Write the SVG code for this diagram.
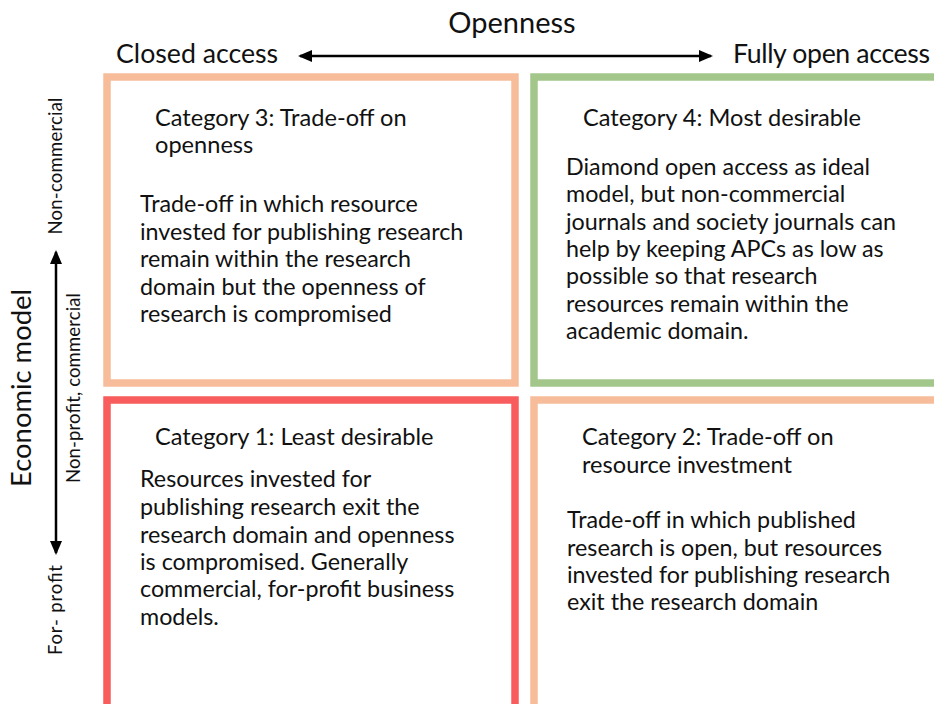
<svg xmlns="http://www.w3.org/2000/svg" width="934" height="704" viewBox="0 0 934 704">
<style>
  .t { font-family: Lato, "Open Sans", "Liberation Sans", sans-serif; fill: #111; }
  .ti { font-size: 29px; }
  .ax { font-size: 26.7px; }
  .em { font-size: 27.4px; }
  .lab { font-size: 18.5px; }
  .h { font-size: 23.6px; }
  .b { font-size: 23.3px; }
  .box { fill: #fff; stroke-width: 7.5; }
  .peach { stroke: #F7BD9B; }
  .green { stroke: #A3C78A; }
  .red { stroke: #F85C5C; }
  .arr { stroke: #000; stroke-width: 2.5; fill: none; }
</style>
<defs>
  <marker id="ah" viewBox="0 0 14 12" refX="12" refY="6" markerWidth="14" markerHeight="12" markerUnits="userSpaceOnUse" orient="auto-start-reverse">
    <path d="M0,0 L14,6 L0,12 Z" fill="#000"/>
  </marker>
</defs>
<rect width="934" height="704" fill="#fff"/>

<g id="axis-openness">
  <text class="t ti" x="512" y="33" text-anchor="middle">Openness</text>
  <text class="t ax" x="116" y="63">Closed access</text>
  <text class="t ax" x="733" y="63" textLength="197">Fully open access</text>
</g>

<g id="axis-economic">
  <text class="t em" transform="translate(31,388) rotate(-90)" text-anchor="middle">Economic model</text>
  <text class="t lab" transform="translate(62,166) rotate(-90)" text-anchor="middle" textLength="137">Non-commercial</text>
  <text class="t lab" transform="translate(80,388) rotate(-90)" text-anchor="middle" textLength="190">Non-profit, commercial</text>
  <text class="t lab" transform="translate(62,610) rotate(-90)" text-anchor="middle" textLength="90">For- profit</text>
</g>

<g id="connectors">
  <line class="arr" x1="300" y1="56" x2="711" y2="56" marker-start="url(#ah)" marker-end="url(#ah)"/>
  <line class="arr" x1="56" y1="252" x2="56" y2="553" marker-start="url(#ah)" marker-end="url(#ah)"/>
</g>

<g id="cat3">
  <rect class="box peach" x="107" y="77" width="408" height="306"/>
  <text class="t h" x="155" y="126">Category 3: Trade-off on</text>
  <text class="t h" x="155" y="153">openness</text>
  <text class="t b" x="140" y="212">Trade-off in which resource</text>
  <text class="t b" x="140" y="239.5">invested for publishing research</text>
  <text class="t b" x="140" y="267">remain within the research</text>
  <text class="t b" x="140" y="294.5">domain but the openness of</text>
  <text class="t b" x="140" y="322">research is compromised</text>
</g>

<g id="cat4">
  <rect class="box green" x="534" y="77" width="420" height="306"/>
  <text class="t h" x="583" y="126">Category 4: Most desirable</text>
  <text class="t b" x="566" y="175">Diamond open access as ideal</text>
  <text class="t b" x="566" y="202">model, but non-commercial</text>
  <text class="t b" x="566" y="230">journals and society journals can</text>
  <text class="t b" x="566" y="257">help by keeping APCs as low as</text>
  <text class="t b" x="566" y="284">possible so that research</text>
  <text class="t b" x="566" y="312">resources remain within the</text>
  <text class="t b" x="566" y="339">academic domain.</text>
</g>

<g id="cat1">
  <rect class="box red" x="107" y="400" width="408" height="320"/>
  <text class="t h" x="155" y="445">Category 1: Least desirable</text>
  <text class="t b" x="140" y="487">Resources invested for</text>
  <text class="t b" x="140" y="515">publishing research exit the</text>
  <text class="t b" x="140" y="543">research domain and openness</text>
  <text class="t b" x="140" y="570">is compromised. Generally</text>
  <text class="t b" x="140" y="597">commercial, for-profit business</text>
  <text class="t b" x="140" y="625">models.</text>
</g>

<g id="cat2">
  <rect class="box peach" x="534" y="400" width="420" height="320"/>
  <text class="t h" x="582" y="445">Category 2: Trade-off on</text>
  <text class="t h" x="582" y="473">resource investment</text>
  <text class="t b" x="567" y="528">Trade-off in which published</text>
  <text class="t b" x="567" y="556">research is open, but resources</text>
  <text class="t b" x="567" y="583">invested for publishing research</text>
  <text class="t b" x="567" y="610">exit the research domain</text>
</g>
</svg>
